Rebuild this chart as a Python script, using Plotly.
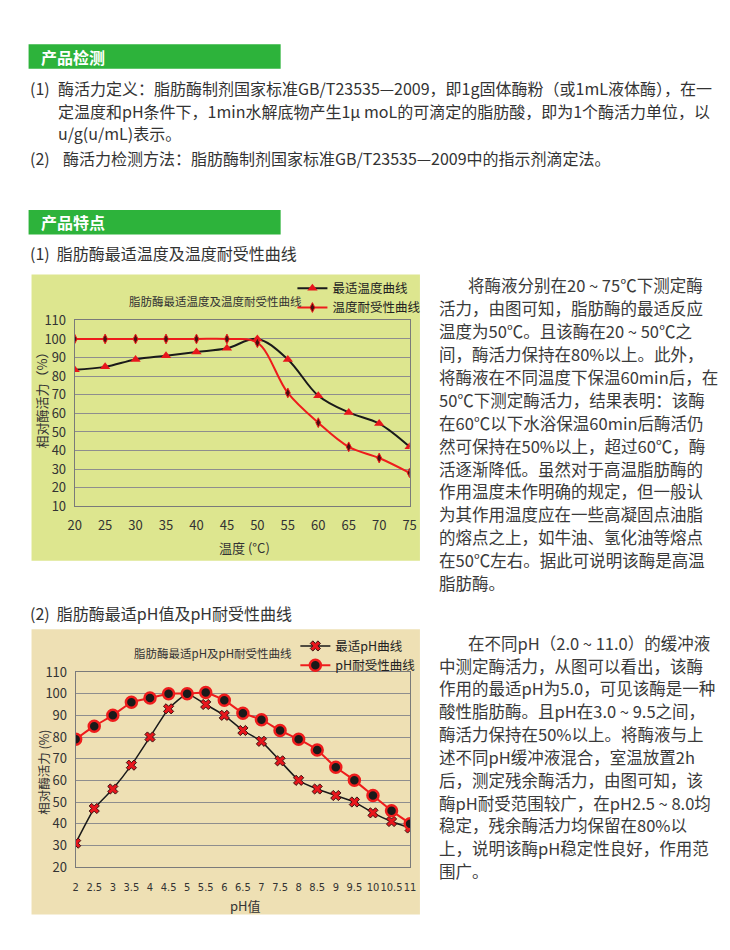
import plotly.graph_objects as go

W, H = 730, 950
FONT = "Noto Sans CJK SC"
NARROW = "Liberation Sans Narrow, DejaVu Sans Condensed, Lato"

# ---------------- data ----------------
temp_x = [20, 25, 30, 35, 40, 45, 50, 55, 60, 65, 70, 75]
temp_opt = [83.5, 85, 89, 91, 93, 95, 100, 89, 69.5, 60.5, 54.5, 42]
temp_tol = [100, 100, 100, 100, 100, 100, 98, 71, 55, 42, 36, 28]
temp_names = ["最适温度曲线", "温度耐受性曲线"]

ph_x = [2, 2.5, 3, 3.5, 4, 4.5, 5, 5.5, 6, 6.5, 7, 7.5, 8, 8.5, 9, 9.5, 10, 10.5, 11]
ph_opt = [31, 47, 56, 67, 80, 93, 100, 95, 90, 83, 78, 69, 60, 56, 53, 50, 45, 41, 38]
ph_tol = [79, 85, 90, 96, 98, 100, 100, 100.5, 97, 91, 88, 83, 79, 74, 66, 60, 53, 46, 40]
ph_names = ["最适pH曲线", "pH耐受性曲线"]
ph_ticktext = ["2", "2.5", "3", "3.5", "4", "4.5", "5", "5.5", "6", "6.5", "7", "7.5",
               "8", "8.5", "9", "9.5", "10", "10.5", "11"]

top_lines = [
    "酶活力定义：脂肪酶制剂国家标准GB/T23535—2009，即1g固体酶粉（或1mL液体酶），在一",
    "定温度和pH条件下，1min水解底物产生1μ moL的可滴定的脂肪酸，即为1个酶活力单位，以",
    "u/g(u/mL)表示。",
]
top_line2 = "酶活力检测方法：脂肪酶制剂国家标准GB/T23535—2009中的指示剂滴定法。"

block1 = [
    "将酶液分别在20 ~ 75℃下测定酶",
    "活力，由图可知，脂肪酶的最适反应",
    "温度为50℃。且该酶在20 ~ 50℃之",
    "间，酶活力保持在80%以上。此外，",
    "将酶液在不同温度下保温60min后，在",
    "50℃下测定酶活力，结果表明：该酶",
    "在60℃以下水浴保温60min后酶活仍",
    "然可保持在50%以上，超过60℃，酶",
    "活逐渐降低。虽然对于高温脂肪酶的",
    "作用温度未作明确的规定，但一般认",
    "为其作用温度应在一些高凝固点油脂",
    "的熔点之上，如牛油、氢化油等熔点",
    "在50℃左右。据此可说明该酶是高温",
    "脂肪酶。",
]
block2 = [
    "在不同pH（2.0 ~ 11.0）的缓冲液",
    "中测定酶活力，从图可以看出，该酶",
    "作用的最适pH为5.0，可见该酶是一种",
    "酸性脂肪酶。且pH在3.0 ~ 9.5之间，",
    "酶活力保持在50%以上。将酶液与上",
    "述不同pH缓冲液混合，室温放置2h",
    "后，测定残余酶活力，由图可知，该",
    "酶pH耐受范围较广，在pH2.5 ~ 8.0均",
    "稳定，残余酶活力均保留在80%以",
    "上，说明该酶pH稳定性良好，作用范",
    "围广。",
]


def px(x):
    return x / W


def py(y):
    return 1 - y / H


fig = go.Figure()

# ---------- chart 1 ----------
fig.add_trace(go.Scatter(
    x=temp_x, y=temp_opt, name=temp_names[0], mode="lines+markers",
    line=dict(color="#1a1a1a", width=2, shape="spline", smoothing=1.0),
    marker=dict(symbol="triangle-up", size=9, color="#e8161c"),
    xaxis="x", yaxis="y", legend="legend"))
fig.add_trace(go.Scatter(
    x=temp_x, y=temp_tol, name=temp_names[1], mode="lines+markers",
    line=dict(color="#ee1c1c", width=2, shape="spline", smoothing=1.0),
    marker=dict(symbol="diamond-tall", size=7, color="#4a1010",
                line=dict(color="#ee1c1c", width=1)),
    xaxis="x", yaxis="y", legend="legend"))

# ---------- chart 2 ----------
fig.add_trace(go.Scatter(
    x=ph_x, y=ph_opt, name=ph_names[0], mode="lines+markers",
    line=dict(color="#1a1a1a", width=1.5, shape="spline", smoothing=0.4),
    marker=dict(symbol="x", size=9, color="#e8161c",
                line=dict(color="#3a1010", width=1)),
    xaxis="x2", yaxis="y2", legend="legend2"))
fig.add_trace(go.Scatter(
    x=ph_x, y=ph_tol, name=ph_names[1], mode="lines+markers",
    line=dict(color="#ee1c1c", width=2, shape="spline", smoothing=0.4),
    marker=dict(symbol="circle", size=11, color="#1a1a1a",
                line=dict(color="#ee1c1c", width=2.5)),
    xaxis="x2", yaxis="y2", legend="legend2"))

tickfont = dict(family=FONT, size=13, color="#333333")
axis_common = dict(showline=True, mirror=True, linecolor="#7a7a7a", linewidth=1,
                   zeroline=False, fixedrange=True)

fig.update_layout(
    width=W, height=H,
    margin=dict(l=0, r=0, t=0, b=0),
    paper_bgcolor="white",
    plot_bgcolor="#e9eef2",
    font=dict(family=FONT, color="#333333"),
    xaxis=dict(domain=[px(69), px(410.5)], range=[20, 75], tickvals=temp_x,
               showgrid=False, ticks="outside", ticklen=7, tickcolor="rgba(0,0,0,0)",
               tickangle=0, tickfont=tickfont, anchor="y", **axis_common),
    yaxis=dict(domain=[py(506.5), py(316.7)], range=[10, 110], dtick=10,
               showgrid=True, gridcolor="#8e8e8e", gridwidth=1,
               ticks="outside", ticklen=5, tickcolor="rgba(0,0,0,0)",
               tickfont=tickfont, anchor="x", **axis_common),
    xaxis2=dict(domain=[px(70), px(411)], range=[2, 11], tickvals=ph_x, ticktext=ph_ticktext,
                showgrid=False, ticks="outside", ticklen=10, tickcolor="rgba(0,0,0,0)",
                tickangle=0, tickfont=dict(family=NARROW, size=11, color="#333333"),
                anchor="y2", **axis_common),
    yaxis2=dict(domain=[py(874.5), py(675.5)], range=[20, 110], dtick=10,
                showgrid=True, gridcolor="#8e8e8e", gridwidth=1,
                ticks="outside", ticklen=5, tickcolor="rgba(0,0,0,0)",
                tickfont=tickfont, anchor="x2", **axis_common),
    legend=dict(x=px(291), y=py(269), xanchor="left", yanchor="top",
                bgcolor="rgba(0,0,0,0)", font=dict(family=FONT, size=12.5, color="#222222"),
                tracegroupgap=0, itemwidth=30),
    legend2=dict(x=px(294), y=py(634), xanchor="left", yanchor="top",
                 bgcolor="rgba(0,0,0,0)", font=dict(family=FONT, size=12.5, color="#222222"),
                 tracegroupgap=0, itemwidth=30),
    showlegend=True,
)

# ---------- backgrounds ----------
shapes = []
GREEN = "#2db33b"
shapes.append(dict(type="rect", xref="paper", yref="paper", x0=px(22), x1=px(279),
                   y0=py(60), y1=py(35), fillcolor=GREEN, line=dict(width=0), layer="below"))
shapes.append(dict(type="rect", xref="paper", yref="paper", x0=px(22), x1=px(279),
                   y0=py(229), y1=py(204), fillcolor=GREEN, line=dict(width=0), layer="below"))
shapes.append(dict(type="rect", xref="paper", yref="paper", x0=px(25), x1=px(421),
                   y0=py(562), y1=py(270), fillcolor="#dde68f", line=dict(width=0), layer="below"))
shapes.append(dict(type="rect", xref="paper", yref="paper", x0=px(25), x1=px(421),
                   y0=py(923), y1=py(632), fillcolor="#eee0b4", line=dict(width=0), layer="below"))
fig.update_layout(shapes=shapes)

ann = []


def text(x, y, s, size=16, color="#333333", anchor="left", bold=False, angle=0):
    if bold:
        s = "<b>" + s + "</b>"
    ann.append(dict(x=px(x), y=py(y), xref="paper", yref="paper", text=s, showarrow=False,
                    xanchor=anchor, yanchor="middle", textangle=angle,
                    font=dict(family=FONT, size=size, color=color)))


# headers
text(33, 47.5, "产品检测", size=16, color="white", bold=True)
text(33, 216.5, "产品特点", size=16, color="white", bold=True)

# top text
text(21, 80, "(1)", size=16)
for i, s in enumerate(top_lines):
    text(50, 80 + 23 * i, s, size=16)
text(21, 151, "(2)", size=16)
text(55, 151, top_line2, size=16)

# subheadings
text(21, 248, "(1)  脂肪酶最适温度及温度耐受性曲线", size=16)
text(21, 615, "(2)  脂肪酶最适pH值及pH耐受性曲线", size=16)

# right-hand paragraphs
for i, s in enumerate(block1):
    text(468 if i == 0 else 438, 280.7 + 23.4 * i, s, size=16.5, color="#3a3a3a")
for i, s in enumerate(block2):
    text(468 if i == 0 else 438, 645.7 + 23.3 * i, s, size=16.5, color="#3a3a3a")

# chart titles / axis titles
text(213, 297, "脂肪酶最适温度及温度耐受性曲线", size=11.5, anchor="center")
text(210, 656, "脂肪酶最适pH及pH耐受性曲线", size=11.5, anchor="center")
text(35, 395, "相对酶活力（%）", size=13, anchor="center", angle=-90)
text(37, 778, "相对酶活力 (%)", size=12.5, anchor="center", angle=-90)
text(242, 548, "温度 (°C)", size=13, anchor="center")
text(243, 914, "pH值", size=13, anchor="center")

fig.update_layout(annotations=ann)

fig.write_html("out.html")
